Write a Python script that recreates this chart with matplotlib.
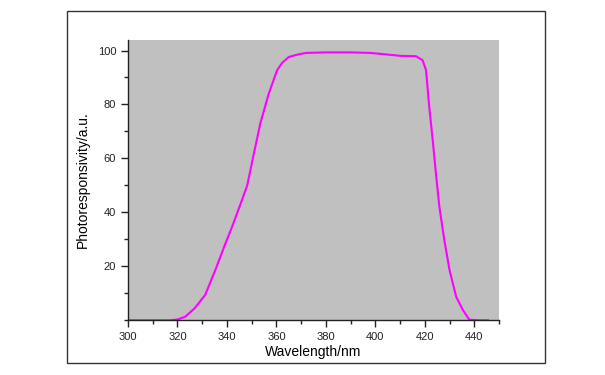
import matplotlib
matplotlib.use("Agg")
import matplotlib.pyplot as plt
from matplotlib.patches import Rectangle
from matplotlib.ticker import MultipleLocator

plt.rcParams["font.family"] = ["Liberation Sans", "DejaVu Sans"]

# photoresponsivity curve
wavelength = [300, 310, 317, 320, 323.1, 327, 331.2, 335.3, 339.4, 342.1, 346.1,
              348.2, 350.7, 353.5, 356.9, 360.3, 362.3, 365, 369, 372, 380,
              390, 398, 405, 410.3, 416.4, 419.1, 420.5, 421.8, 423.2, 424.5,
              425.9, 427.9, 430, 432.7, 435.4, 438, 442, 445.5]
response = [0, 0, 0, 0.3, 1.3, 4.5, 9.4, 18.6, 28.5, 34.7, 44.6,
            50, 61, 73, 84, 92.7, 95.4, 97.6, 98.6, 99.1, 99.3,
            99.3, 99.1, 98.5, 98.0, 97.9, 96.4, 92.7, 79, 66.8, 54.4,
            42, 29.7, 18.6, 8.7, 3.8, 0.2, 0, 0]

fig = plt.figure(figsize=(6.05, 3.75), dpi=100)
ax = fig.add_axes([0.2116, 0.1459, 0.6132, 0.7482])

ax.plot(wavelength, response, color="#FF00FF", lw=1.5)

ax.set_facecolor("#C0C0C0")
ax.set_xlim(300, 450)
ax.set_ylim(0, 104)
ax.xaxis.set_major_locator(MultipleLocator(20))
ax.xaxis.set_minor_locator(MultipleLocator(10))
ax.yaxis.set_major_locator(MultipleLocator(20))
ax.yaxis.set_minor_locator(MultipleLocator(10))
ax.set_yticks([20, 40, 60, 80, 100])
for s in ["top", "right"]:
    ax.spines[s].set_visible(False)
for s in ["left", "bottom"]:
    ax.spines[s].set_color("#222222")
    ax.spines[s].set_linewidth(1)
ax.tick_params(which="major", length=5, width=1, labelsize=8, colors="#222222")
ax.tick_params(which="minor", length=3, width=1, colors="#222222")

ax.set_xlabel("Wavelength/nm", fontsize=10, labelpad=2)
ax.set_ylabel("Photoresponsivity/a.u.", fontsize=10, labelpad=6)

# outer frame around the whole graph
fig.patches.append(Rectangle((0.11, 0.032), 0.791, 0.9395, transform=fig.transFigure,
                             fill=False, edgecolor="#333333", lw=1))

fig.savefig("out.png", dpi=100)
